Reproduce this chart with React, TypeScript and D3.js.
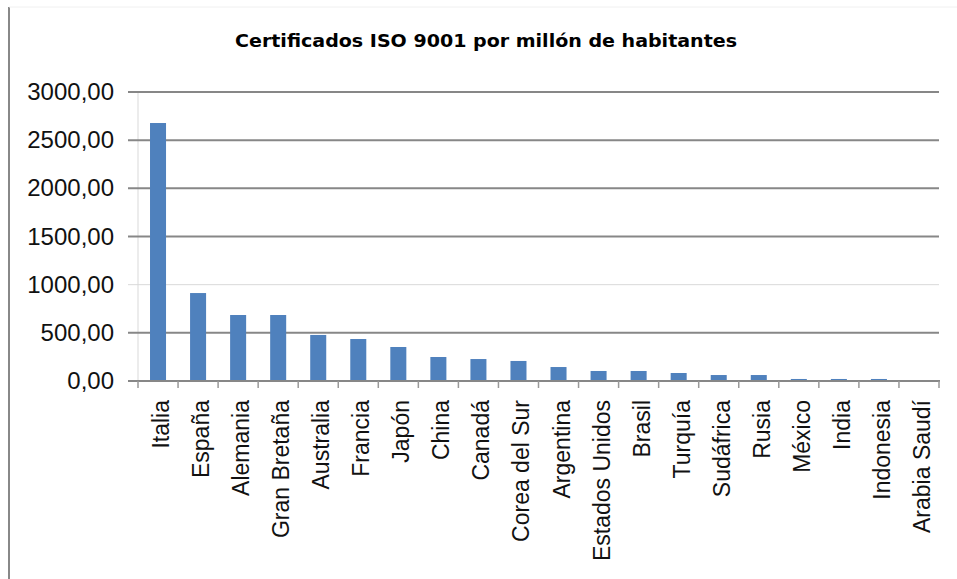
import React, { useEffect, useRef } from 'react';
import * as d3 from 'd3';

// countries, ordered as in the chart
const paises = [
  'Italia', 'España', 'Alemania', 'Gran Bretaña', 'Australia', 'Francia', 'Japón',
  'China', 'Canadá', 'Corea del Sur', 'Argentina', 'Estados Unidos', 'Brasil',
  'Turquía', 'Sudáfrica', 'Rusia', 'México', 'India', 'Indonesia', 'Arabia Saudí'
];

// ISO 9001 certificates per million inhabitants
const certificados = [
  2678, 913, 685, 685, 478, 436, 353, 249, 228, 208, 145, 104, 104, 83, 62, 62,
  21, 21, 21, 2
];

const yTicks = [0, 500, 1000, 1500, 2000, 2500, 3000];
// the 1000 gridline is drawn light in the original
const lightTicks = [1000];

const titulo = 'Certificados ISO 9001 por millón de habitantes';

export default function App() {
  const ref = useRef<SVGSVGElement>(null);

  useEffect(() => {
    const svg = d3.select(ref.current);
    svg.selectAll('*').remove();

    const left = 138, right = 939, top = 92, bottom = 381;

    const x = d3.scaleBand<string>().domain(paises).range([left, right])
      .paddingInner(0.6).paddingOuter(0.3);
    const y = d3.scaleLinear().domain([0, 3000]).range([bottom, top]);

    // chart frame (left edge visible)
    svg.append('line')
      .attr('x1', 9).attr('x2', 9).attr('y1', 7).attr('y2', 579)
      .attr('stroke', '#888').attr('stroke-width', 2);
    svg.append('line')
      .attr('x1', 9).attr('x2', 957).attr('y1', 7).attr('y2', 7)
      .attr('stroke', '#f0f0f0').attr('stroke-width', 1);

    // title
    svg.append('text')
      .attr('x', 486).attr('y', 47)
      .attr('text-anchor', 'middle')
      .attr('font-family', 'DejaVu Sans, sans-serif')
      .attr('font-weight', 'bold')
      .attr('font-size', 17)
      .attr('textLength', 502)
      .attr('lengthAdjust', 'spacingAndGlyphs')
      .text(titulo);

    // y axis line (light)
    svg.append('line')
      .attr('x1', left).attr('x2', left).attr('y1', top).attr('y2', bottom)
      .attr('stroke', '#d9d9d9').attr('stroke-width', 1);

    // gridlines + ticks
    svg.selectAll('.grid').data(yTicks.filter(t => t > 0)).join('line')
      .attr('class', 'grid')
      .attr('x1', left - 10).attr('x2', right)
      .attr('y1', d => y(d)).attr('y2', d => y(d))
      .attr('stroke', d => lightTicks.includes(d) ? '#d9d9d9' : '#878787')
      .attr('stroke-width', d => lightTicks.includes(d) ? 1 : 2);

    // y labels
    const fmt = d3.format('.2f');
    svg.selectAll('.ylab').data(yTicks).join('text')
      .attr('class', 'ylab')
      .attr('x', 114).attr('y', d => y(d) + 8)
      .attr('text-anchor', 'end')
      .attr('font-family', 'Liberation Sans, Arial, sans-serif')
      .attr('font-size', 24)
      .attr('fill', '#111')
      .text(d => fmt(d).replace('.', ','));

    // bars
    svg.selectAll('.bar').data(certificados).join('rect')
      .attr('class', 'bar')
      .attr('x', (d, i) => x(paises[i])!)
      .attr('width', x.bandwidth())
      .attr('y', d => y(d))
      .attr('height', d => bottom - y(d))
      .attr('fill', '#4F81BD');

    // x axis line
    svg.append('line')
      .attr('x1', left - 10).attr('x2', right + 1).attr('y1', bottom).attr('y2', bottom)
      .attr('stroke', '#878787').attr('stroke-width', 2);

    // category ticks
    const step = x.step();
    const tickPos = d3.range(paises.length + 1).map(i => left + i * step);
    svg.selectAll('.xtick').data(tickPos).join('line')
      .attr('class', 'xtick')
      .attr('x1', d => d).attr('x2', d => d)
      .attr('y1', bottom).attr('y2', bottom + 7)
      .attr('stroke', '#999').attr('stroke-width', 1.5);

    // category labels, rotated
    svg.selectAll('.xlab').data(paises).join('text')
      .attr('class', 'xlab')
      .attr('transform', d => `translate(${x(d)! + x.bandwidth() / 2 + 11}, 400) rotate(-90)`)
      .attr('text-anchor', 'end')
      .attr('font-family', 'Liberation Sans, Arial, sans-serif')
      .attr('font-size', 23)
      .attr('fill', '#111')
      .text(d => d);
  }, []);

  return (
    <svg ref={ref} width={957} height={579}
      style={{ position: 'absolute', left: 0, top: 0, background: '#fff' }} />
  );
}
